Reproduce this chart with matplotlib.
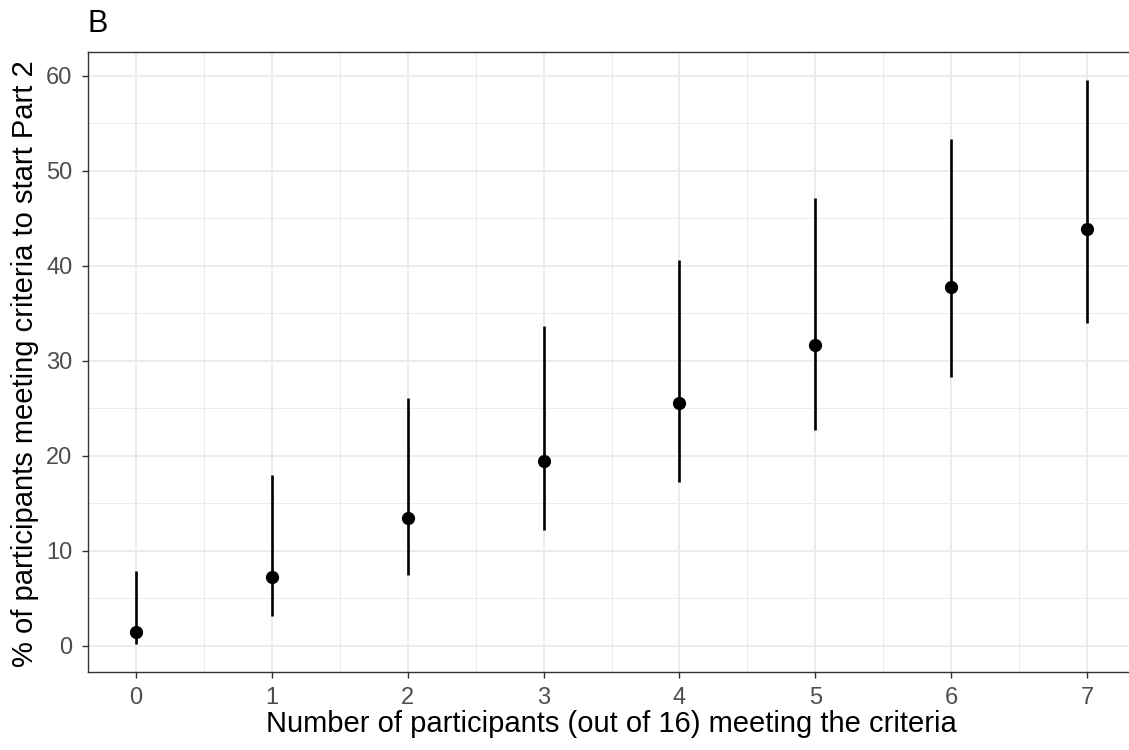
import matplotlib
matplotlib.use("Agg")
import matplotlib.pyplot as plt
from matplotlib.ticker import MultipleLocator

plt.rcParams['font.family'] = ['Liberation Sans', 'DejaVu Sans']

# Data
n_participants = [0, 1, 2, 3, 4, 5, 6, 7]
pct_estimate = [1.4, 7.25, 13.45, 19.4, 25.55, 31.65, 37.8, 43.85]
pct_lower = [0.2, 3.15, 7.45, 12.2, 17.25, 22.7, 28.25, 33.95]
pct_upper = [7.9, 18.0, 26.1, 33.65, 40.6, 47.1, 53.4, 59.55]

fig = plt.figure(figsize=(11.29, 7.5), dpi=100)
ax = fig.add_axes([88/1129, 1 - 672/750, (1135 - 88)/1129, (672 - 52)/750])

for x, lo, hi in zip(n_participants, pct_lower, pct_upper):
    ax.plot([x, x], [lo, hi], color='black', lw=1.9, solid_capstyle='butt', zorder=3)
ax.plot(n_participants, pct_estimate, 'o', color='black', ms=8.5, zorder=4)

ymin, ymax = min(pct_lower), max(pct_upper)
pad = 0.05 * (ymax - ymin)
ax.set_ylim(ymin - pad, ymax + pad)
ax.set_xlim(-0.35, 7.35)

ax.xaxis.set_major_locator(MultipleLocator(1))
ax.xaxis.set_minor_locator(MultipleLocator(0.5))
ax.yaxis.set_major_locator(MultipleLocator(10))
ax.yaxis.set_minor_locator(MultipleLocator(5))

ax.grid(which='major', color='#EBEBEB', lw=1.3, zorder=0)
ax.grid(which='minor', color='#EBEBEB', lw=0.7, zorder=0)
ax.set_axisbelow(True)

for s in ax.spines.values():
    s.set_color('#333333')
    s.set_linewidth(1.0)

ax.tick_params(which='major', length=4.3, width=1.0, color='#333333',
               labelcolor='#4D4D4D', labelsize=17)
ax.tick_params(axis='y', pad=7)
ax.tick_params(axis='x', pad=6.5)
ax.tick_params(which='minor', length=0)

ax.set_xlabel('Number of participants (out of 16) meeting the criteria',
              fontsize=21, color='black')
ax.set_ylabel('% of participants meeting criteria to start Part 2',
              fontsize=21, color='black')
ax.xaxis.set_label_coords(0.4995, -0.062)
ax.yaxis.set_label_coords(-0.0465, 0.497)

fig.text(88/1129, 1 - 32/750, 'B', fontsize=22, ha='left', va='baseline', color='black')

fig.savefig('out.png', dpi=100)
